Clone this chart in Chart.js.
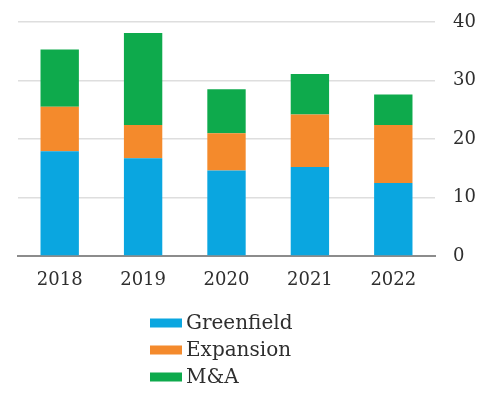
<!DOCTYPE html>
<html>
<head>
<meta charset="utf-8">
<script src="https://cdn.jsdelivr.net/npm/chart.js@4/dist/chart.umd.min.js"></script>
<style>
  html, body { margin: 0; padding: 0; background: #ffffff; }
  #wrap { width: 477px; height: 395px; }
</style>
</head>
<body>
<div id="wrap"><canvas id="c" width="477" height="395"></canvas></div>
<script>
const years = ['2018', '2019', '2020', '2021', '2022'];
const greenfield = [17.9, 16.7, 14.6, 15.2, 12.5];
const expansion = [7.6, 5.7, 6.4, 9.0, 9.9];
const mna = [9.8, 15.7, 7.5, 6.9, 5.2];
const yTicks = [0, 10, 20, 30, 40];

const FONT = 'DejaVu Serif';
const TEXT = '#2e2e2e';

// Stacked legend in a single left-aligned column below the axis labels
const columnLegend = {
  id: 'columnLegend',
  afterDraw(chart) {
    const ctx = chart.ctx;
    const x0 = 150, y0 = 323, step = 27;
    ctx.save();
    ctx.font = '20px "' + FONT + '"';
    ctx.textBaseline = 'middle';
    ctx.textAlign = 'left';
    chart.data.datasets.forEach((ds, i) => {
      const y = y0 + i * step;
      ctx.fillStyle = ds.backgroundColor;
      ctx.fillRect(x0, y - 4.5, 32, 9);
      ctx.fillStyle = TEXT;
      ctx.fillText(ds.label, x0 + 36, y + 1);
    });
    ctx.restore();
  }
};

new Chart(document.getElementById('c'), {
  type: 'bar',
  data: {
    labels: years,
    datasets: [
      { label: 'Greenfield', data: greenfield, backgroundColor: '#0aa6e0' },
      { label: 'Expansion', data: expansion, backgroundColor: '#f48a2c' },
      { label: 'M&A', data: mna, backgroundColor: '#0eaa4c' }
    ]
  },
  options: {
    responsive: false,
    animation: false,
    layout: { padding: { left: 18, right: 0, top: 22, bottom: 99 } },
    datasets: { bar: { barPercentage: 0.46, categoryPercentage: 1 } },
    plugins: {
      legend: { display: false },
      tooltip: { enabled: false }
    },
    scales: {
      x: {
        stacked: true,
        grid: { display: false, drawTicks: false },
        border: { display: true, color: '#8c8c8c', width: 2 },
        ticks: { color: TEXT, font: { family: FONT, size: 18 }, padding: 14 },
        afterFit(scale) { scale.height = 40; scale.paddingLeft = 0; scale.paddingRight = 0; }
      },
      y: {
        stacked: true,
        position: 'right',
        min: 0,
        max: 40,
        afterBuildTicks(scale) { scale.ticks = yTicks.map(v => ({ value: v })); },
        grid: { color: '#dedede', lineWidth: 1.5, drawTicks: false },
        border: { display: false },
        ticks: { color: TEXT, font: { family: FONT, size: 18 }, padding: 18 },
        afterFit(scale) { scale.width = 42; scale.paddingTop = 0; scale.paddingBottom = 0; }
      }
    }
  },
  plugins: [columnLegend]
});
</script>
</body>
</html>
